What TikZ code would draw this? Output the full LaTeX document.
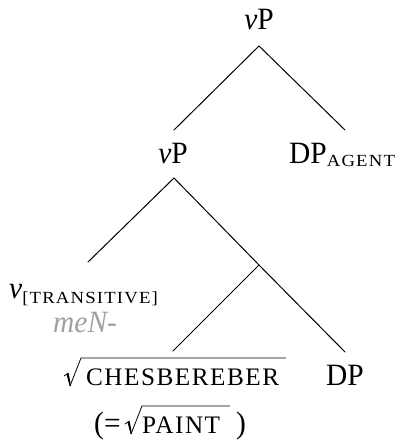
\documentclass[tikz,border=0pt]{standalone}
\usepackage{fontspec}
\setmainfont[FakeStretch=0.95]{Liberation Serif}
\newfontfamily\capsfont[FakeStretch=1.1,LetterSpace=7]{Liberation Serif}
\newfontfamily\rootcapsfont[LetterSpace=6]{Liberation Serif}
\definecolor{glossgray}{RGB}{160,160,160}
\newcommand{\bigsize}{\fontsize{31}{34}\selectfont}
\newcommand{\scsize}{\fontsize{25.2}{28}\selectfont\rootcapsfont}
\newcommand{\subsize}{\fontsize{17}{19}\selectfont\capsfont}
% radical sign: left x, baseline y, right end of the vinculum
\newcommand{\rootsign}[3]{%
  \draw[line width=0.8pt,line cap=round] (#1,#2-9) -- (#1+3,#2-11);
  \fill (#1+2.4,#2-11.2) -- (#1+4.6,#2-12.2) -- (#1+7,#2+0.8) -- (#1+5.6,#2+1) -- cycle;
  \draw[line width=0.8pt] (#1+6,#2+1) -- (#1+17,#2-27) -- (#3,#2-27);}
\begin{document}
\begin{tikzpicture}[x=1pt,y=-1pt,
  lbl/.style={inner sep=0pt,font=\bigsize},
  branch/.style={line width=1pt,line cap=round}]
\useasboundingbox (0,0) rectangle (400,440);

% labels
\node[lbl,anchor=base] (top) at (259,29) {\textit{v}P};
\node[lbl,anchor=base] (vp) at (173,163) {\textit{v}P};
\node[lbl,anchor=base west] (agent) at (289,163) {DP\raisebox{-3pt}{\subsize AGENT}};
\node[lbl,anchor=base west] (little) at (9,298) {\textit{v}\raisebox{-5pt}{\subsize[TRANSITIVE]}};
\node[lbl,anchor=base west,text=glossgray] (men) at (53,332) {\textit{meN-}};
\node[lbl,anchor=base west,font=\scsize] (root) at (86,385) {CHESBEREBER};
\node[lbl,anchor=base west] (dp) at (326,385) {DP};
\node[lbl,anchor=base west] (open) at (94,433) {(=};
\node[lbl,anchor=base west,font=\scsize] (paint) at (142,433) {PAINT};
\node[lbl,anchor=base west] (close) at (236,433) {)};

% radical signs
\rootsign{64}{385}{286}
\rootsign{125}{433}{230}

% branch points
\coordinate (topfoot) at (259,46);
\coordinate (vpfoot) at (174,178);
\coordinate (mid) at (259,265);

\draw[branch] (topfoot) -- (174,130) coordinate (vptop);
\draw[branch] (topfoot) -- (345,130) coordinate (agenttop);
\draw[branch] (vpfoot) -- (88,262) coordinate (littletop);
\draw[branch] (vpfoot) -- (mid) -- (345,352) coordinate (dptop);
\draw[branch] (mid) -- (173,351) coordinate (roottop);
\end{tikzpicture}
\end{document}
